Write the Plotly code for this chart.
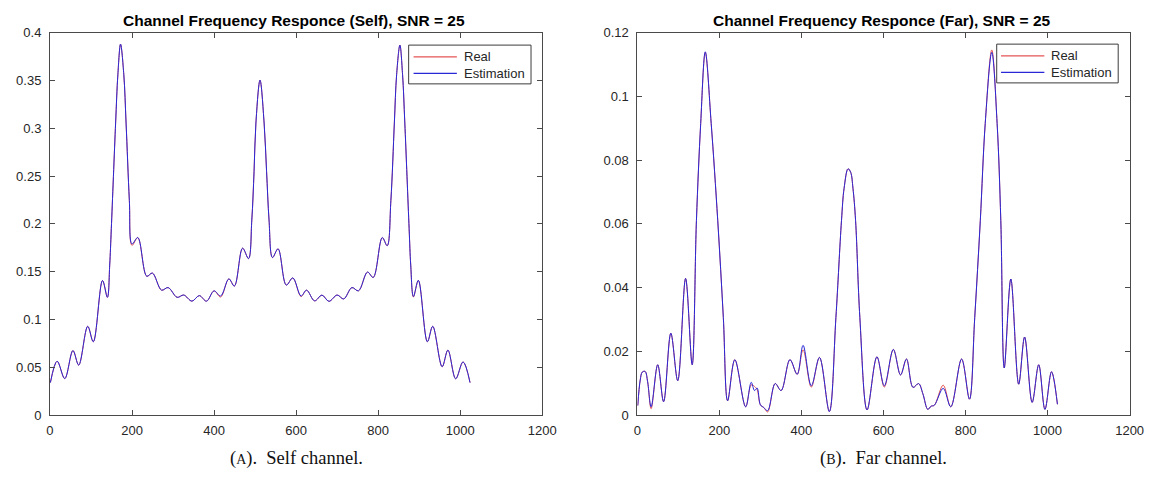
import plotly.graph_objects as go

# ---------------- data ----------------
self_x = [1, 17.5, 36, 56, 70, 92, 105.6, 128, 140, 145.6,
          149.5, 160, 165.5, 172, 180, 185.5, 193.5, 200, 214, 236,
          249.6, 272, 288, 310, 326, 346, 364, 381.6, 400, 416,
          436, 449.5, 469.5, 484, 492, 497.5, 502, 512, 522, 528,
          534, 542.4, 556, 576, 592, 612, 625.5, 645, 663, 680,
          700, 716, 736, 752, 774, 788, 810, 822, 831, 839.5,
          845, 853, 859.5, 865, 875.5, 879.4, 886, 898, 920, 933,
          956, 970, 989, 1007, 1024]
self_est = [0.034, 0.0564, 0.0382, 0.0675, 0.0523, 0.0929, 0.0767, 0.1408, 0.1232, 0.157,
            0.195, 0.3055, 0.356, 0.388, 0.356, 0.3055, 0.2245, 0.179, 0.1857, 0.1452,
            0.1486, 0.1307, 0.1334, 0.1232, 0.1256, 0.1192, 0.125, 0.1192, 0.130, 0.1246,
            0.1425, 0.135, 0.1746, 0.1637, 0.204, 0.255, 0.3055, 0.3504, 0.3055, 0.255,
            0.204, 0.1648, 0.1739, 0.136, 0.1435, 0.1246, 0.1307, 0.1195, 0.1255, 0.119,
            0.1256, 0.1215, 0.1334, 0.130, 0.1496, 0.144, 0.1857, 0.1772, 0.2245, 0.3055,
            0.356, 0.387, 0.356, 0.3055, 0.195, 0.157, 0.124, 0.141, 0.0767, 0.0929,
            0.0506, 0.068, 0.038, 0.0557, 0.034]
self_real = [0.034, 0.0564, 0.0382, 0.0675, 0.0523, 0.0929, 0.0767, 0.1408, 0.1232, 0.157,
             0.195, 0.3055, 0.356, 0.388, 0.356, 0.3055, 0.2245, 0.1775, 0.1857, 0.1452,
             0.1486, 0.1307, 0.1334, 0.1232, 0.1256, 0.1192, 0.125, 0.1192, 0.130, 0.1235,
             0.1425, 0.135, 0.1746, 0.1637, 0.204, 0.255, 0.3055, 0.3504, 0.3055, 0.255,
             0.204, 0.1648, 0.1739, 0.136, 0.1435, 0.124, 0.1307, 0.1195, 0.1255, 0.119,
             0.1256, 0.1215, 0.1334, 0.130, 0.1496, 0.144, 0.1857, 0.1772, 0.2245, 0.3055,
             0.356, 0.387, 0.356, 0.3055, 0.195, 0.157, 0.1235, 0.141, 0.0767, 0.0929,
             0.0506, 0.068, 0.038, 0.0557, 0.034]

far_x = [1, 7, 12, 19, 25, 33.6, 49.6, 64, 81.6, 98.4,
         117.6, 133.6, 144, 154.4, 165.6, 180, 196, 209.6, 220, 237.6,
         264, 277.6, 285.6, 292, 300, 308, 317.6, 336, 350.4, 372,
         389.6, 404, 424, 444, 468, 484, 497.6, 504, 513.6, 520,
         525.6, 532, 542.4, 560, 584, 602, 624, 641.6, 656, 672,
         685.6, 696, 708, 716, 724, 745.6, 764, 790.4, 809.6, 822.4,
         836, 848, 864, 877, 886, 894.4, 910.4, 929.6, 944, 962.4,
         978.4, 993.6, 1009.6, 1024]
far_est = [0.003, 0.011, 0.0135, 0.0137, 0.0105, 0.0026, 0.0158, 0.0042, 0.0257, 0.0108,
           0.0429, 0.0158, 0.061, 0.0915, 0.114, 0.0915, 0.061, 0.0306, 0.0045, 0.0174,
           0.0026, 0.0103, 0.0077, 0.0085, 0.0032, 0.0024, 0.0014, 0.0099, 0.0077, 0.0174,
           0.0128, 0.0219, 0.0092, 0.0181, 0.0011, 0.0306, 0.061, 0.0712, 0.0773, 0.0762,
           0.0712, 0.061, 0.0306, 0.0016, 0.0183, 0.0092, 0.0206, 0.0126, 0.0176, 0.0087,
           0.0099, 0.0067, 0.0018, 0.0028, 0.0031, 0.0084, 0.0026, 0.0176, 0.005, 0.0306,
           0.061, 0.0915, 0.1138, 0.0915, 0.061, 0.0148, 0.0427, 0.0097, 0.0245, 0.004,
           0.0158, 0.0018, 0.0136, 0.0034]
far_real = [0.003, 0.011, 0.0135, 0.0137, 0.0105, 0.002, 0.0158, 0.0042, 0.0257, 0.0108,
            0.0429, 0.0158, 0.061, 0.0915, 0.1138, 0.0915, 0.061, 0.0306, 0.0045, 0.0174,
            0.0026, 0.0095, 0.009, 0.008, 0.0032, 0.0024, 0.001, 0.0099, 0.0077, 0.0174,
            0.0128, 0.0205, 0.0088, 0.0181, 0.0011, 0.0306, 0.061, 0.0712, 0.0773, 0.0762,
            0.0712, 0.061, 0.0306, 0.0016, 0.0183, 0.0088, 0.0206, 0.0126, 0.0176, 0.0087,
            0.0099, 0.0067, 0.0018, 0.0028, 0.0031, 0.0094, 0.0026, 0.0176, 0.005, 0.0306,
            0.061, 0.0915, 0.1146, 0.0915, 0.061, 0.0148, 0.0427, 0.0097, 0.0245, 0.004,
            0.0158, 0.0018, 0.0136, 0.0034]

x_ticks = [0, 200, 400, 600, 800, 1000, 1200]
titles = ["Channel Frequency Responce (Self), SNR = 25",
          "Channel Frequency Responce (Far), SNR = 25"]
captions = ["(<span style='font-size:14px'>A</span>).  Self channel.",
            "(<span style='font-size:14px'>B</span>).  Far channel."]
series_names = ["Real", "Estimation"]

# ---------------- styling ----------------
W, H = 1164, 490
RED = "rgb(228,84,84)"
BLUE = "rgb(40,40,215)"
AXC = "#4a4a4a"
TXT = "#262626"

left_px = (46.7, 546.7)
right_px = (643.3, 1143.3)
top_px, bot_px = 26.5, 421.0

def dom_x(p):
    return [p[0] / W, p[1] / W]

ydom = [1 - bot_px / H, 1 - top_px / H]

fig = go.Figure()

fig.add_trace(go.Scatter(x=self_x, y=self_real, mode="lines", name=series_names[0],
                         line=dict(color=RED, width=1.0, shape="spline", smoothing=1.0),
                         xaxis="x", yaxis="y", showlegend=False))
fig.add_trace(go.Scatter(x=self_x, y=self_est, mode="lines", name=series_names[1],
                         line=dict(color=BLUE, width=1.0, shape="spline", smoothing=1.0),
                         xaxis="x", yaxis="y", showlegend=False))
fig.add_trace(go.Scatter(x=far_x, y=far_real, mode="lines", name=series_names[0],
                         line=dict(color=RED, width=1.0, shape="spline", smoothing=1.0),
                         xaxis="x2", yaxis="y2", showlegend=False))
fig.add_trace(go.Scatter(x=far_x, y=far_est, mode="lines", name=series_names[1],
                         line=dict(color=BLUE, width=1.0, shape="spline", smoothing=1.0),
                         xaxis="x2", yaxis="y2", showlegend=False))

common = dict(ticks="inside", ticklen=5, tickwidth=1, tickcolor=AXC,
              showline=True, linecolor=AXC, linewidth=1, mirror="ticks",
              showgrid=False, zeroline=False,
              tickfont=dict(family="Arial, Liberation Sans", size=13, color=TXT))

fig.update_layout(
    width=W, height=H,
    margin=dict(l=0, r=0, t=0, b=0),
    paper_bgcolor="white", plot_bgcolor="white",
    xaxis=dict(domain=dom_x(left_px), range=[0, 1200], tickvals=x_ticks, anchor="y",
               ticklabelstandoff=3, **common),
    yaxis=dict(domain=ydom, range=[0, 0.4], dtick=0.05, tick0=0, anchor="x",
               ticklabelstandoff=5, **common),
    xaxis2=dict(domain=dom_x(right_px), range=[0, 1200], tickvals=x_ticks, anchor="y2",
                ticklabelstandoff=3, **common),
    yaxis2=dict(domain=ydom, range=[0, 0.12], dtick=0.02, tick0=0, anchor="x2",
                ticklabelstandoff=5, **common),
    showlegend=False,
)

# manual MATLAB-style legends (box, sample lines, labels)
legends = [dict(box=(411, 535.3, 39.3, 79.3), line=(416, 460), text_x=465.5, rows=(51.5, 68.5)),
           dict(box=(1008.3, 1131.7, 38.3, 78.3), line=(1012.7, 1056.7), text_x=1061.5, rows=(50.5, 67.5))]
for lg in legends:
    bx0, bx1, by0, by1 = lg["box"]
    fig.add_shape(type="rect", xref="paper", yref="paper",
                  x0=bx0 / W, x1=bx1 / W, y0=1 - by1 / H, y1=1 - by0 / H,
                  line=dict(color="#3c3c3c", width=1), fillcolor="white", layer="above")
    for name, col, row in zip(series_names, [RED, BLUE], lg["rows"]):
        fig.add_shape(type="line", xref="paper", yref="paper",
                      x0=lg["line"][0] / W, x1=lg["line"][1] / W,
                      y0=1 - row / H, y1=1 - row / H,
                      line=dict(color=col, width=1.2), layer="above")
        fig.add_annotation(x=lg["text_x"] / W, y=1 - row / H, xref="paper", yref="paper",
                           text=name, showarrow=False, xanchor="left", yanchor="middle",
                           font=dict(family="Arial, Liberation Sans", size=13, color=TXT))

centers = [(left_px[0] + left_px[1]) / 2 / W, (right_px[0] + right_px[1]) / 2 / W]
for i in range(2):
    fig.add_annotation(x=centers[i] - 2 / W, y=1 - 14 / H, xref="paper", yref="paper",
                       text="<b>" + titles[i] + "</b>", showarrow=False,
                       xanchor="center", yanchor="middle",
                       font=dict(family="Arial, Liberation Sans", size=15.5, color="#000"))
    fig.add_annotation(x=centers[i], y=1 - 466 / H, xref="paper", yref="paper",
                       text=captions[i], showarrow=False,
                       xanchor="center", yanchor="middle",
                       font=dict(family="Liberation Serif, Times New Roman, serif", size=18.5, color="#111"))

fig.write_html("out.html")
